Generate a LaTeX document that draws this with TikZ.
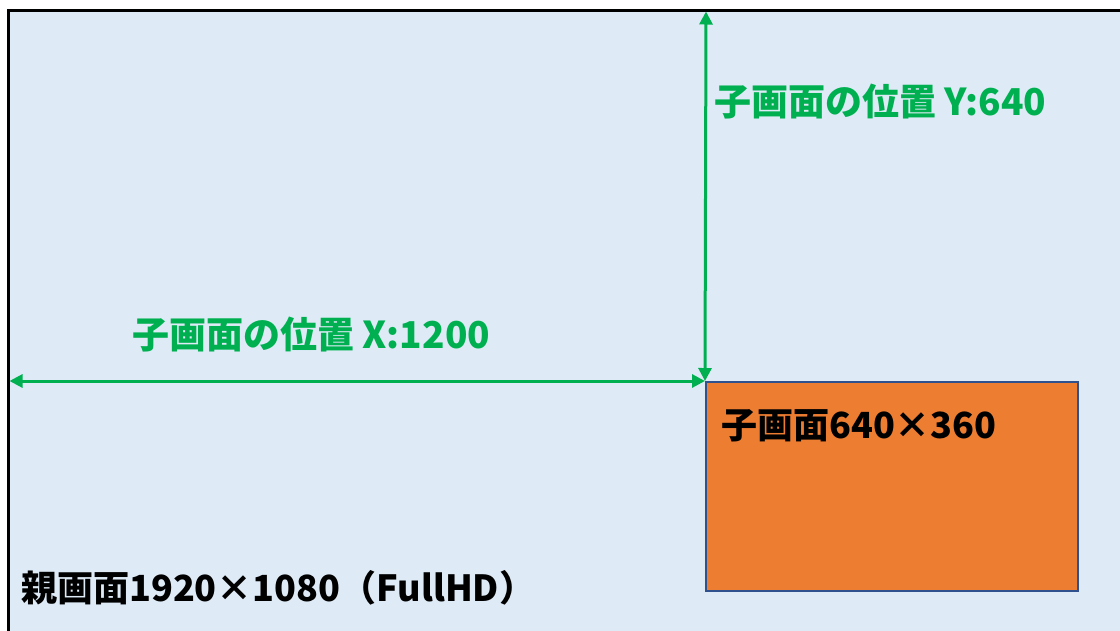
\documentclass[tikz,border=0pt]{standalone}
\usepackage{fontspec}
\setmainfont{Noto Sans CJK JP}
\usetikzlibrary{arrows.meta}
\definecolor{bgblue}{HTML}{DEEBF7}
\definecolor{grn}{HTML}{00B050}
\definecolor{orng}{HTML}{ED7D31}
\definecolor{edgeblue}{HTML}{2F528F}
\tikzset{
  lbl/.style={anchor=west, inner sep=0pt, font=\fontsize{37}{40}\selectfont\bfseries},
  blbl/.style={anchor=west, inner sep=0pt, font=\fontsize{36}{40}\selectfont\bfseries},
  dim/.style={draw=grn, line width=3pt, {Triangle[length=13pt,width=13pt]}-{Triangle[length=13pt,width=13pt]}},
}
\begin{document}
\begin{tikzpicture}[x=1pt,y=-1pt]
\useasboundingbox (0,0) rectangle (1120,630);
\clip (0,0) rectangle (1120,630);
\fill[white] (0,0) rectangle (1120,630);
\draw[fill=bgblue, draw=black, line width=2.5pt] (8.5,10.5) rectangle (1140,650);
\coordinate (L) at (9.5,381);
\coordinate (T) at (706,11.5);
\node[draw=edgeblue, fill=orng, line width=1.5pt, minimum width=372pt, minimum height=209pt, anchor=north west, inner sep=0pt] (child) at (705,381) {};
\draw[dim] (L) -- (child.north west);
\draw[dim] (T) -- (child.north west);
\node[lbl, text=grn] (ylbl) at (714,102) {子画面の位置 Y:640};
\node[lbl, text=grn] (xlbl) at (132,335) {子画面の位置 X:1200};
\node[blbl, text=black] (clbl) at (721,426) {子画面640×360};
\node[blbl, text=black] (plbl) at (21,588) {親画面1920×1080（FullHD）};
\end{tikzpicture}
\end{document}
